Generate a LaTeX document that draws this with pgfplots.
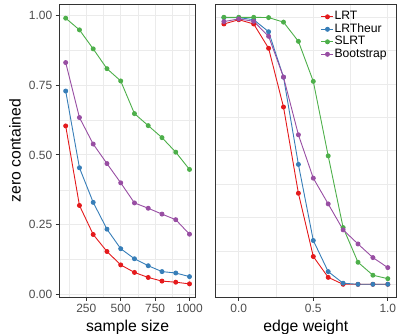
\documentclass[border=0pt]{standalone}
\usepackage{pgfplots}
\pgfplotsset{compat=1.18}
\usepackage{fontspec}
\setmainfont{Liberation Sans}
\definecolor{cRed}{HTML}{E41A1C}
\definecolor{cBlue}{HTML}{377EB8}
\definecolor{cGreen}{HTML}{4DAF4A}
\definecolor{cPurple}{HTML}{984EA3}
\definecolor{grey92}{HTML}{EBEBEB}
\definecolor{grey30}{HTML}{4D4D4D}
\definecolor{grey20}{HTML}{333333}
\pgfplotsset{
  ggbase/.style={
    scale only axis,
    anchor=south west,
    height=292.5bp,
    axis line style={grey20, line width=0.9bp},
    tick align=outside,
    major tick length=3.8bp,
    minor tick length=0bp,
    tick style={grey20, line width=0.9bp},
    xtick pos=bottom, ytick pos=left,
    grid=both,
    major grid style={grey92, line width=0.9bp},
    minor grid style={grey92, line width=0.45bp},
    ticklabel style={font=\fontsize{12}{12}\selectfont, text=grey30},
    label style={font=\fontsize{15.8}{15.8}\selectfont, text=black},
    /pgf/number format/assume math mode=true,
    every axis plot/.append style={line width=0.9bp, mark=*, mark size=2bp},
  },
}
\begin{document}
\begin{tikzpicture}
\useasboundingbox (0,0) rectangle (398bp,334bp);
% left panel
\begin{axis}[ggbase,
  at={(59.5bp,37bp)},
  width=136.2bp,
  xmin=55, xmax=1045, ymin=-0.009, ymax=1.039,
  xtick={250,500,750,1000}, xticklabels={250,500,750,1000},
  minor xtick={125,375,625,875},
  ytick={0,0.25,0.5,0.75,1}, yticklabels={0.00,0.25,0.50,0.75,1.00},
  minor ytick={0.125,0.375,0.625,0.875},
  xlabel={sample size}, ylabel={zero contained},
  xlabel style={at={(axis description cs:0.5,0)}, anchor=base, yshift=-34.5bp},
  ylabel style={at={(axis description cs:-0.2863,0.5)}, anchor=base},
]
\addplot[cGreen, mark options={fill=cGreen}] coordinates {
(100,0.99)(200,0.948)(300,0.880)(400,0.809)(500,0.765)(600,0.648)(700,0.605)(800,0.562)(900,0.510)(1000,0.448)};
\addplot[cPurple, mark options={fill=cPurple}] coordinates {
(100,0.831)(200,0.634)(300,0.539)(400,0.469)(500,0.400)(600,0.328)(700,0.309)(800,0.288)(900,0.268)(1000,0.216)};
\addplot[cBlue, mark options={fill=cBlue}] coordinates {
(100,0.729)(200,0.454)(300,0.330)(400,0.234)(500,0.164)(600,0.128)(700,0.103)(800,0.082)(900,0.077)(1000,0.064)};
\addplot[cRed, mark options={fill=cRed}] coordinates {
(100,0.604)(200,0.319)(300,0.215)(400,0.154)(500,0.106)(600,0.079)(700,0.061)(800,0.048)(900,0.044)(1000,0.038)};
\end{axis}
% right panel
\begin{axis}[ggbase,
  at={(215.7bp,37bp)},
  width=180.3bp,
  xmin=-0.155, xmax=1.055, ymin=-0.0476, ymax=1.048,
  xtick={0,0.5,1}, xticklabels={0.0,0.5,1.0},
  minor xtick={0.25,0.75},
  ytick={0,0.25,0.5,0.75,1}, yticklabels={},
  minor ytick={0.125,0.375,0.625,0.875},
  y tick style={draw=none},
  xlabel={edge weight},
  xlabel style={at={(axis description cs:0.5,0)}, anchor=base, yshift=-34.5bp},
  legend cell align=left,
  legend image code/.code={\draw[mark repeat=2,mark phase=2] plot coordinates {(0bp,0bp)(6bp,0bp)(12bp,0bp)};},
  legend style={at={(axis description cs:0.583,0.98)}, anchor=north west, draw=none, fill=none,
    font=\fontsize{12.2}{12.2}\selectfont, inner sep=0bp,
    nodes={inner sep=0.6bp, text height=8.8bp, text depth=2.5bp},
    /tikz/every even column/.append style={column sep=6bp}},
]
\addplot[cRed, mark options={fill=cRed}] coordinates {
(-0.1,0.975)(0,0.991)(0.1,0.975)(0.2,0.884)(0.3,0.664)(0.4,0.341)(0.5,0.104)(0.6,0.026)(0.7,0.0)(0.8,0.0)(0.9,0.0)(1.0,0.0)};
\addlegendentry{LRT}
\addplot[cBlue, mark options={fill=cBlue}] coordinates {
(-0.1,0.999)(0,0.999)(0.1,0.991)(0.2,0.946)(0.3,0.776)(0.4,0.449)(0.5,0.164)(0.6,0.0475)(0.7,0.004)(0.8,0.0)(0.9,0.0)(1.0,0.0)};
\addlegendentry{LRTheur}
\addplot[cGreen, mark options={fill=cGreen}] coordinates {
(-0.1,1.0)(0,1.0)(0.1,1.0)(0.2,0.999)(0.3,0.982)(0.4,0.91)(0.5,0.76)(0.6,0.481)(0.7,0.2125)(0.8,0.0825)(0.9,0.034)(1.0,0.021)};
\addlegendentry{SLRT}
\addplot[cPurple, mark options={fill=cPurple}] coordinates {
(-0.1,0.984)(0,0.994)(0.1,0.985)(0.2,0.929)(0.3,0.776)(0.4,0.56)(0.5,0.3975)(0.6,0.301)(0.7,0.204)(0.8,0.151)(0.9,0.1)(1.0,0.0625)};
\addlegendentry{Bootstrap}
\end{axis}
\end{tikzpicture}
\end{document}
